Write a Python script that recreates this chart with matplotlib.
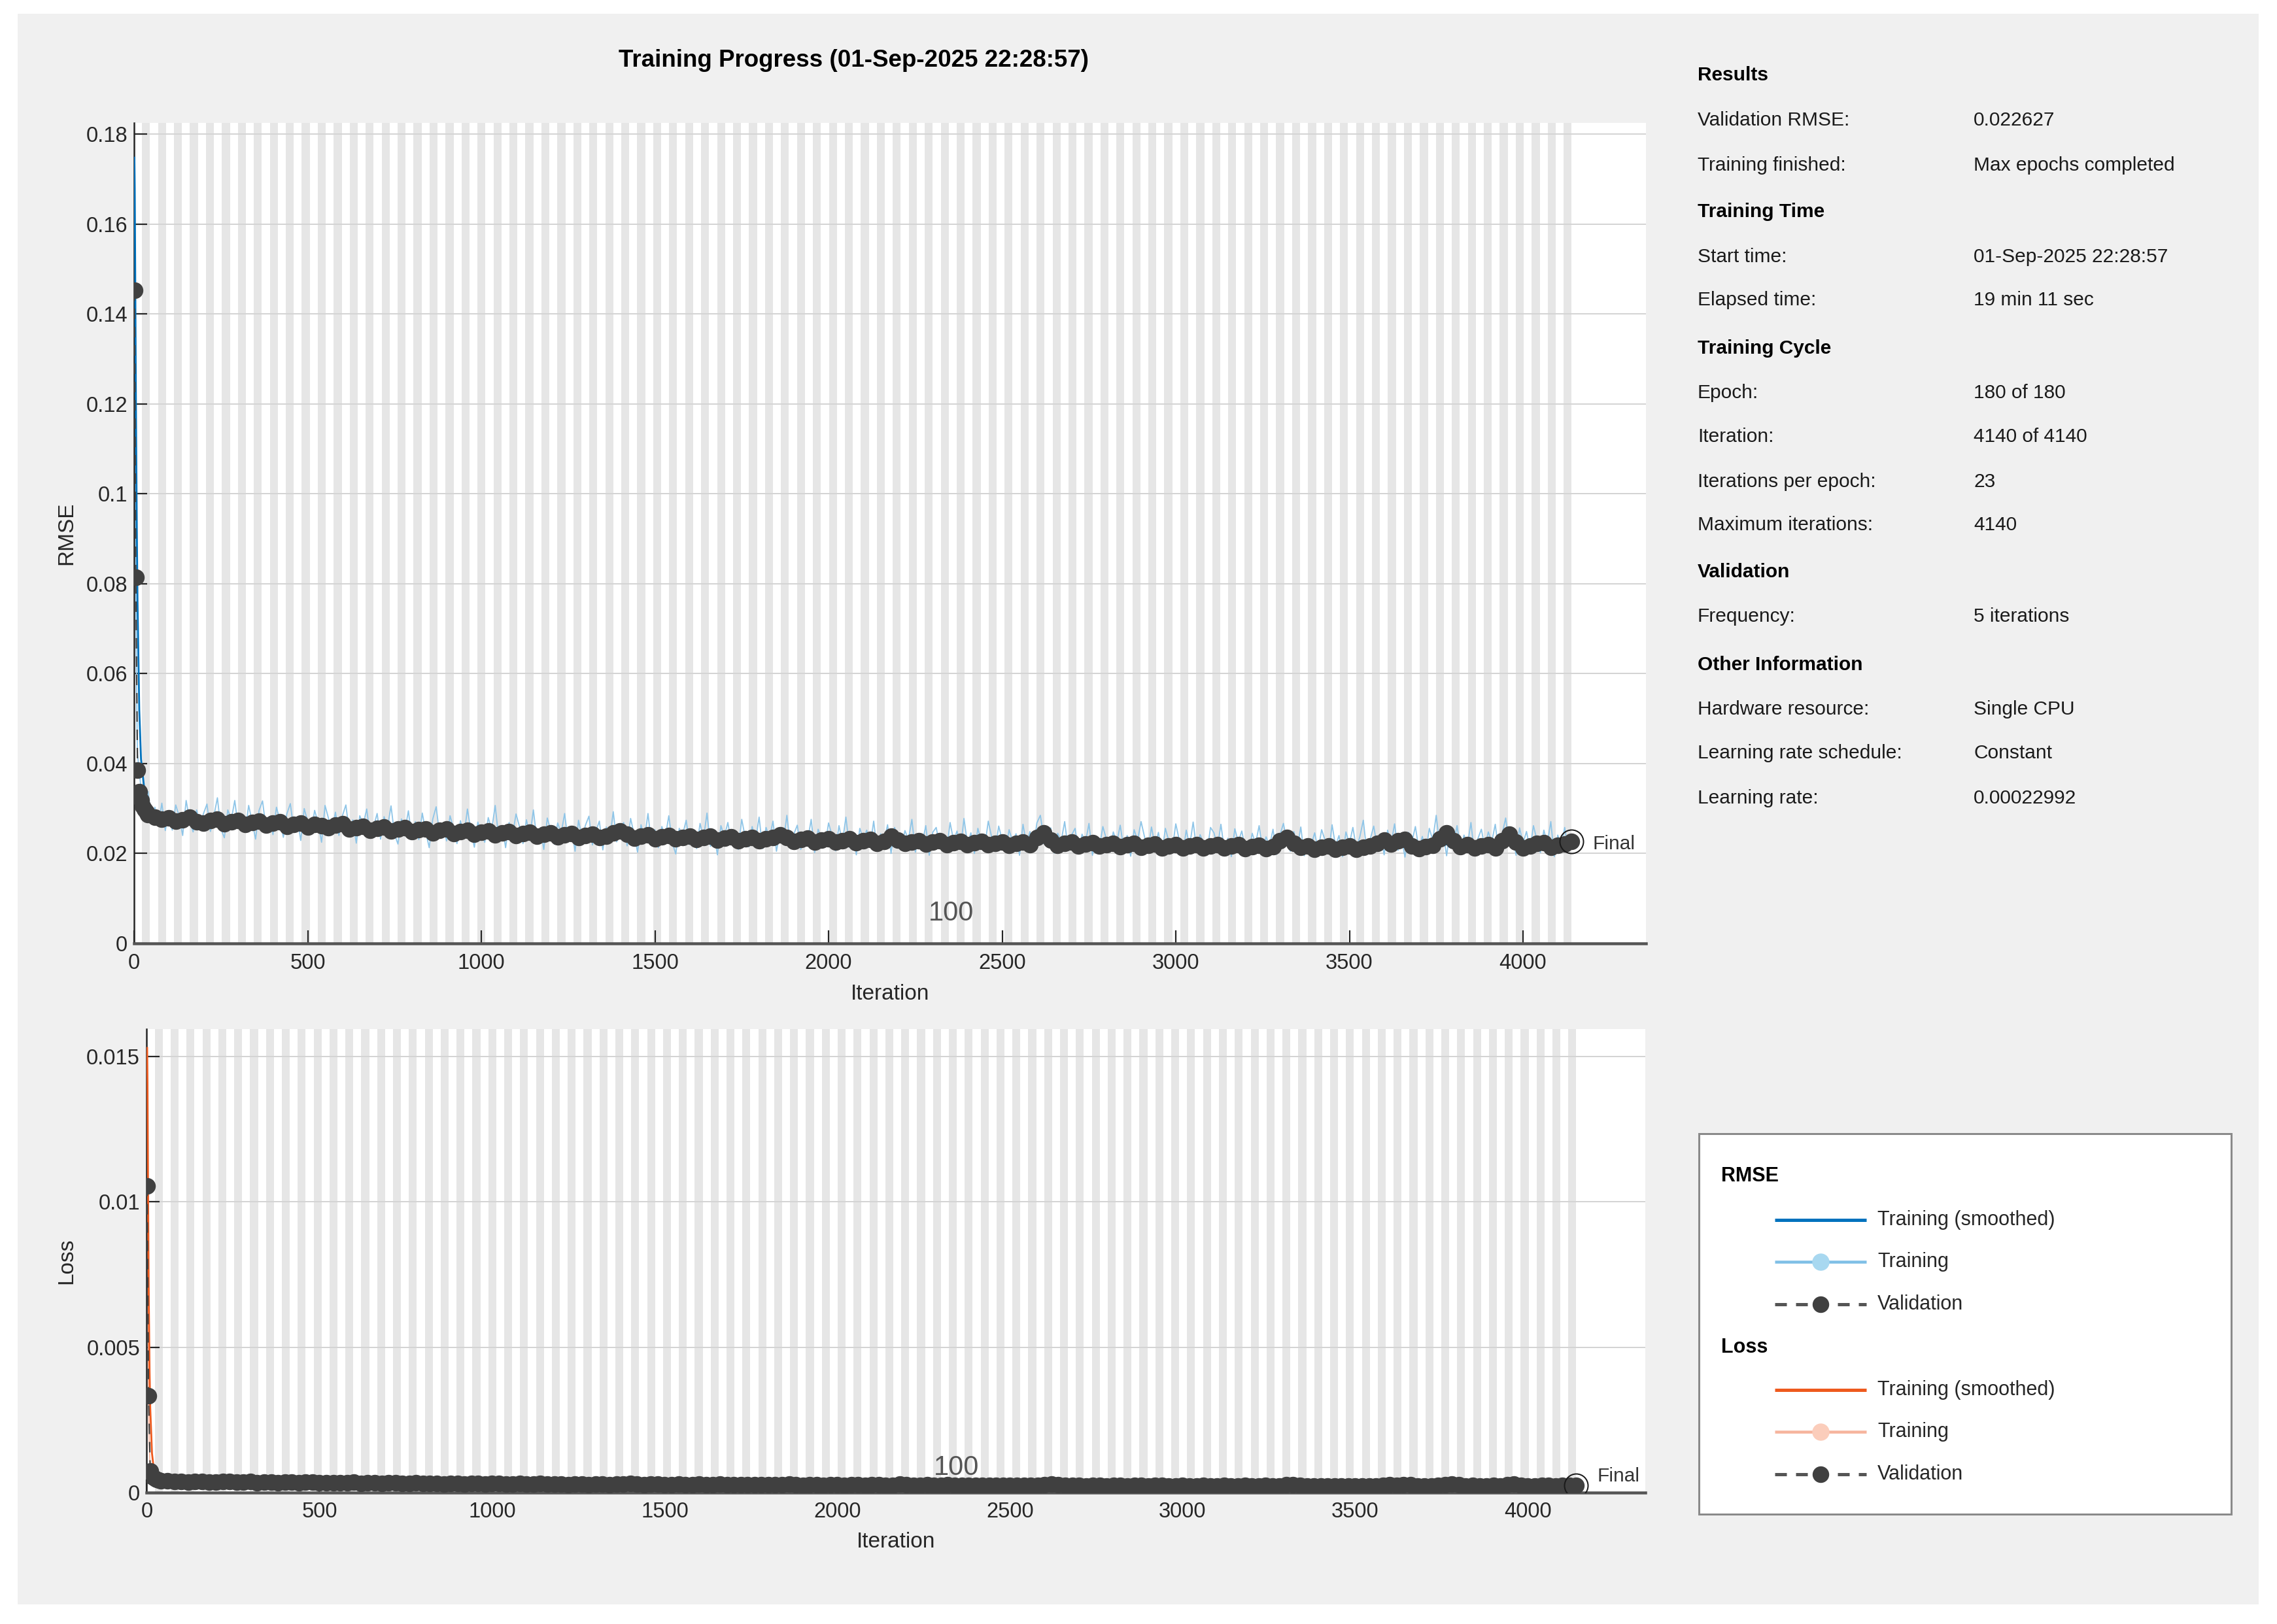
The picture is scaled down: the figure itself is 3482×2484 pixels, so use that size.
import numpy as np
import matplotlib
matplotlib.use("Agg")
import matplotlib.pyplot as plt
from matplotlib.patches import Rectangle
from matplotlib.ticker import FuncFormatter

# ----------------------------------------------------------------- data
n_epochs = 180
iters_per_epoch = 23
max_iter = 4140

# training RMSE (raw), iterations 1..9 then every 10 iterations
train_iter = list(range(1, 10)) + list(range(10, 4141, 10))
train_rmse = [
    0.1748, 0.1600, 0.1280, 0.0980, 0.0820, 0.0700, 0.0600, 0.0520, 0.0460,
    0.0420, 0.0345, 0.0300, 0.0338, 0.0280, 0.0303, 0.0263, 0.0312, 0.0251, 0.0295,
    0.0252, 0.0308, 0.0283, 0.0240, 0.0318, 0.0275, 0.0248, 0.0297, 0.0267, 0.0289,
    0.0310, 0.0249, 0.0284, 0.0324, 0.0255, 0.0235, 0.0297, 0.0275, 0.0318, 0.0257,
    0.0288, 0.0247, 0.0307, 0.0271, 0.0232, 0.0296, 0.0317, 0.0256, 0.0282, 0.0242,
    0.0303, 0.0274, 0.0236, 0.0288, 0.0311, 0.0253, 0.0280, 0.0229, 0.0300, 0.0271,
    0.0244, 0.0296, 0.0268, 0.0225, 0.0307, 0.0278, 0.0251, 0.0292, 0.0240, 0.0284,
    0.0308, 0.0246, 0.0275, 0.0223, 0.0284, 0.0265, 0.0299, 0.0238, 0.0260, 0.0289,
    0.0232, 0.0282, 0.0258, 0.0306, 0.0243, 0.0221, 0.0277, 0.0251, 0.0295, 0.0234,
    0.0271, 0.0231, 0.0290, 0.0248, 0.0213, 0.0276, 0.0304, 0.0242, 0.0263, 0.0228,
    0.0284, 0.0256, 0.0222, 0.0273, 0.0238, 0.0299, 0.0251, 0.0214, 0.0270, 0.0243,
    0.0225, 0.0280, 0.0253, 0.0307, 0.0235, 0.0262, 0.0213, 0.0269, 0.0241, 0.0288,
    0.0260, 0.0222, 0.0275, 0.0239, 0.0297, 0.0230, 0.0257, 0.0209, 0.0279, 0.0251,
    0.0221, 0.0268, 0.0245, 0.0289, 0.0226, 0.0255, 0.0205, 0.0274, 0.0236, 0.0263,
    0.0283, 0.0219, 0.0250, 0.0272, 0.0208, 0.0259, 0.0234, 0.0293, 0.0226, 0.0255,
    0.0269, 0.0217, 0.0278, 0.0243, 0.0203, 0.0264, 0.0232, 0.0289, 0.0222, 0.0253,
    0.0213, 0.0260, 0.0237, 0.0284, 0.0224, 0.0199, 0.0256, 0.0242, 0.0274, 0.0220,
    0.0251, 0.0211, 0.0267, 0.0234, 0.0290, 0.0216, 0.0245, 0.0197, 0.0262, 0.0238,
    0.0269, 0.0223, 0.0250, 0.0209, 0.0276, 0.0236, 0.0215, 0.0260, 0.0229, 0.0281,
    0.0211, 0.0258, 0.0235, 0.0272, 0.0205, 0.0248, 0.0226, 0.0285, 0.0218, 0.0243,
    0.0263, 0.0209, 0.0246, 0.0230, 0.0276, 0.0202, 0.0254, 0.0233, 0.0215, 0.0268,
    0.0240, 0.0206, 0.0262, 0.0225, 0.0281, 0.0214, 0.0248, 0.0197, 0.0256, 0.0232,
    0.0252, 0.0218, 0.0272, 0.0205, 0.0244, 0.0229, 0.0264, 0.0200, 0.0258, 0.0236,
    0.0212, 0.0251, 0.0231, 0.0276, 0.0203, 0.0243, 0.0223, 0.0262, 0.0196, 0.0247,
    0.0258, 0.0218, 0.0238, 0.0205, 0.0269, 0.0229, 0.0250, 0.0210, 0.0278, 0.0222,
    0.0246, 0.0200, 0.0256, 0.0227, 0.0216, 0.0272, 0.0235, 0.0208, 0.0261, 0.0230,
    0.0207, 0.0253, 0.0226, 0.0244, 0.0196, 0.0265, 0.0220, 0.0249, 0.0212, 0.0268,
    0.0285, 0.0234, 0.0215, 0.0257, 0.0201, 0.0245, 0.0228, 0.0271, 0.0209, 0.0241,
    0.0256, 0.0204, 0.0243, 0.0225, 0.0267, 0.0196, 0.0238, 0.0214, 0.0260, 0.0232,
    0.0203, 0.0248, 0.0224, 0.0263, 0.0211, 0.0240, 0.0194, 0.0253, 0.0229, 0.0271,
    0.0237, 0.0207, 0.0259, 0.0218, 0.0247, 0.0199, 0.0256, 0.0227, 0.0210, 0.0266,
    0.0230, 0.0196, 0.0252, 0.0217, 0.0270, 0.0209, 0.0242, 0.0223, 0.0202, 0.0258,
    0.0246, 0.0214, 0.0265, 0.0206, 0.0234, 0.0193, 0.0255, 0.0226, 0.0250, 0.0212,
    0.0201, 0.0245, 0.0222, 0.0262, 0.0208, 0.0237, 0.0216, 0.0254, 0.0198, 0.0241,
    0.0267, 0.0225, 0.0205, 0.0249, 0.0213, 0.0259, 0.0195, 0.0233, 0.0219, 0.0246,
    0.0208, 0.0253, 0.0229, 0.0200, 0.0264, 0.0217, 0.0240, 0.0193, 0.0248, 0.0222,
    0.0258, 0.0212, 0.0237, 0.0274, 0.0204, 0.0232, 0.0261, 0.0215, 0.0244, 0.0197,
    0.0252, 0.0221, 0.0266, 0.0207, 0.0236, 0.0192, 0.0247, 0.0226, 0.0260, 0.0210,
    0.0238, 0.0201, 0.0256, 0.0230, 0.0285, 0.0216, 0.0245, 0.0195, 0.0253, 0.0222,
    0.0262, 0.0208, 0.0241, 0.0219, 0.0269, 0.0198, 0.0233, 0.0254, 0.0213, 0.0248,
    0.0226, 0.0265, 0.0204, 0.0244, 0.0279, 0.0217, 0.0238, 0.0196, 0.0257, 0.0223,
    0.0249, 0.0210, 0.0262, 0.0230, 0.0202, 0.0252, 0.0222, 0.0271, 0.0193, 0.0241,
    0.0217, 0.0258, 0.0206, 0.0235,
]

# training RMSE (smoothed)
smooth_iter = [1, 2, 3, 4, 5, 6, 8, 10, 15, 20, 30, 40, 60, 80, 100, 150, 200,
               300, 400, 500, 600, 700, 800, 900, 1000, 1100, 1200, 1300, 1400,
               1500, 1600, 1700, 1800, 1900, 2000, 2100, 2200, 2300, 2400, 2500,
               2600, 2700, 2800, 2900, 3000, 3100, 3200, 3300, 3400, 3500, 3600,
               3700, 3800, 3900, 4000, 4100, 4140]
smooth_rmse = [0.1748, 0.1680, 0.1550, 0.1400, 0.1260, 0.1130, 0.0920, 0.0760,
               0.0520, 0.0410, 0.0340, 0.0310, 0.0290, 0.0285, 0.0280, 0.0277,
               0.0274, 0.0270, 0.0267, 0.0263, 0.0259, 0.0255, 0.0251, 0.0248,
               0.0245, 0.0242, 0.0240, 0.0238, 0.0237, 0.0235, 0.0233, 0.0232,
               0.0230, 0.0229, 0.0228, 0.0227, 0.0226, 0.0225, 0.0225, 0.0224,
               0.0224, 0.0223, 0.0222, 0.0222, 0.0221, 0.0221, 0.0220, 0.0220,
               0.0220, 0.0219, 0.0219, 0.0220, 0.0220, 0.0221, 0.0221, 0.0221,
               0.0222]

# validation RMSE
val_iter = [1, 5, 10, 15, 20, 25, 30, 35] + list(range(40, 4141, 20))
val_rmse = [
    0.1453, 0.0815, 0.0385, 0.0338, 0.0318, 0.0305, 0.0298, 0.0292,
    0.0287, 0.0281, 0.0276, 0.0279, 0.0272, 0.0275, 0.0280, 0.0271, 0.0268, 0.0274,
    0.0277, 0.0266, 0.0270, 0.0273, 0.0264, 0.0269, 0.0272, 0.0263, 0.0267, 0.0270,
    0.0261, 0.0265, 0.0268, 0.0259, 0.0264, 0.0262, 0.0257, 0.0263, 0.0266, 0.0255,
    0.0258, 0.0261, 0.0252, 0.0256, 0.0259, 0.0250, 0.0254, 0.0257, 0.0248, 0.0253,
    0.0255, 0.0246, 0.0251, 0.0254, 0.0245, 0.0249, 0.0252, 0.0243, 0.0247, 0.0250,
    0.0241, 0.0246, 0.0249, 0.0240, 0.0244, 0.0247, 0.0238, 0.0243, 0.0246, 0.0237,
    0.0241, 0.0244, 0.0236, 0.0240, 0.0243, 0.0235, 0.0239, 0.0246, 0.0250, 0.0243,
    0.0234, 0.0238, 0.0241, 0.0233, 0.0237, 0.0240, 0.0232, 0.0236, 0.0239, 0.0231,
    0.0235, 0.0238, 0.0230, 0.0234, 0.0237, 0.0229, 0.0233, 0.0236, 0.0228, 0.0232,
    0.0235, 0.0242, 0.0236, 0.0227, 0.0231, 0.0234, 0.0226, 0.0230, 0.0233, 0.0225,
    0.0229, 0.0232, 0.0224, 0.0228, 0.0231, 0.0223, 0.0227, 0.0238, 0.0230, 0.0222,
    0.0226, 0.0229, 0.0221, 0.0225, 0.0228, 0.0220, 0.0224, 0.0227, 0.0219, 0.0224,
    0.0227, 0.0219, 0.0223, 0.0226, 0.0218, 0.0222, 0.0225, 0.0220, 0.0236, 0.0246,
    0.0230, 0.0218, 0.0222, 0.0225, 0.0217, 0.0221, 0.0224, 0.0216, 0.0220, 0.0223,
    0.0215, 0.0219, 0.0222, 0.0214, 0.0218, 0.0221, 0.0213, 0.0217, 0.0220, 0.0213,
    0.0217, 0.0220, 0.0212, 0.0216, 0.0219, 0.0212, 0.0216, 0.0219, 0.0211, 0.0215,
    0.0218, 0.0211, 0.0215, 0.0228, 0.0236, 0.0222, 0.0214, 0.0217, 0.0210, 0.0214,
    0.0217, 0.0210, 0.0214, 0.0217, 0.0210, 0.0214, 0.0217, 0.0222, 0.0230, 0.0221,
    0.0229, 0.0231, 0.0217, 0.0211, 0.0215, 0.0218, 0.0232, 0.0246, 0.0228, 0.0215,
    0.0219, 0.0212, 0.0216, 0.0219, 0.0212, 0.0229, 0.0243, 0.0225, 0.0213, 0.0217,
    0.0223, 0.0224, 0.0214, 0.0218, 0.0221, 0.022627,
]

# training loss (raw), in units of 1e-4
loss_train_iter = list(range(1, 10)) + [10, 20, 30] + list(range(40, 4121, 40)) + [4140]
loss_train_e4 = [
    153.0, 128.0, 82.0, 48.0, 34.0, 24.0, 18.0, 13.5, 10.6,
    8.8, 5.6, 4.7,
    5.1, 4.5, 4.2, 3.6, 4.3, 3.9, 3.4, 4.1, 3.7, 3.5,
    4.0, 3.3, 3.8, 3.6, 3.1, 3.9, 3.4, 3.2, 3.7, 3.0,
    3.5, 3.1, 3.6, 2.9, 3.3, 3.0, 3.5, 2.8, 3.2, 3.4,
    2.8, 3.3, 2.9, 3.1, 2.7, 3.4, 2.8, 3.0, 2.6, 3.2,
    2.9, 2.6, 3.1, 2.7, 2.9, 2.5, 3.0, 2.7, 2.8, 2.5,
    3.0, 2.6, 2.8, 2.4, 2.9, 2.6, 2.7, 2.4, 2.9, 2.5,
    2.7, 2.4, 2.8, 2.6, 2.3, 2.9, 2.5, 2.7, 2.3, 2.6,
    2.8, 2.4, 2.6, 2.3, 2.7, 2.5, 2.2, 2.8, 2.4, 2.6,
    2.3, 2.7, 2.4, 2.6, 2.2, 2.8, 2.4, 2.5, 2.3, 2.7,
    2.4, 2.6, 2.2, 2.9, 2.4, 2.5, 2.3, 2.7, 2.4, 2.6,
    2.3, 2.8, 2.5,
    2.6,
]

# training loss (smoothed), in units of 1e-4 (same iterations as smooth_iter)
loss_smooth_e4 = [153.0, 141.0, 120.0, 98.0, 79.0, 64.0, 42.0, 29.0, 13.5, 8.4,
                  5.8, 4.8, 4.2, 4.06, 3.92, 3.84, 3.75, 3.65, 3.56, 3.46, 3.35,
                  3.25, 3.15, 3.08, 3.00, 2.93, 2.88, 2.83, 2.81, 2.76, 2.72,
                  2.69, 2.65, 2.62, 2.60, 2.58, 2.56, 2.53, 2.53, 2.51, 2.51,
                  2.49, 2.46, 2.46, 2.44, 2.44, 2.42, 2.42, 2.42, 2.40, 2.40,
                  2.42, 2.42, 2.44, 2.44, 2.44, 2.46]

# validation loss, in units of 1e-4 (same iterations as val_iter)
val_loss_e4 = [
    105.6, 33.2, 7.4, 5.7, 5.1, 4.65, 4.44, 4.26,
    4.12, 3.95, 3.81, 3.89, 3.70, 3.78, 3.92, 3.67, 3.59, 3.75,
    3.84, 3.54, 3.65, 3.73, 3.48, 3.62, 3.70, 3.46, 3.56, 3.65,
    3.41, 3.51, 3.59, 3.35, 3.48, 3.43, 3.30, 3.46, 3.54, 3.25,
    3.33, 3.41, 3.18, 3.28, 3.35, 3.13, 3.23, 3.30, 3.08, 3.20,
    3.25, 3.03, 3.15, 3.23, 3.00, 3.10, 3.18, 2.95, 3.05, 3.13,
    2.90, 3.03, 3.10, 2.88, 2.98, 3.05, 2.83, 2.95, 3.03, 2.81,
    2.90, 2.98, 2.78, 2.88, 2.95, 2.76, 2.86, 3.03, 3.13, 2.95,
    2.74, 2.83, 2.90, 2.71, 2.81, 2.88, 2.69, 2.78, 2.86, 2.67,
    2.76, 2.83, 2.65, 2.74, 2.81, 2.62, 2.71, 2.78, 2.60, 2.69,
    2.76, 2.93, 2.78, 2.58, 2.67, 2.74, 2.55, 2.65, 2.71, 2.53,
    2.62, 2.69, 2.51, 2.60, 2.67, 2.49, 2.58, 2.83, 2.65, 2.46,
    2.55, 2.62, 2.44, 2.53, 2.60, 2.42, 2.51, 2.58, 2.40, 2.51,
    2.58, 2.40, 2.49, 2.55, 2.38, 2.46, 2.53, 2.42, 2.78, 3.03,
    2.65, 2.38, 2.46, 2.53, 2.35, 2.44, 2.51, 2.33, 2.42, 2.49,
    2.31, 2.40, 2.46, 2.29, 2.38, 2.44, 2.27, 2.35, 2.42, 2.27,
    2.35, 2.42, 2.25, 2.33, 2.40, 2.25, 2.33, 2.40, 2.23, 2.31,
    2.38, 2.23, 2.31, 2.60, 2.78, 2.46, 2.29, 2.35, 2.21, 2.29,
    2.35, 2.21, 2.29, 2.35, 2.21, 2.29, 2.35, 2.46, 2.65, 2.44,
    2.62, 2.67, 2.35, 2.23, 2.31, 2.38, 2.69, 3.03, 2.60, 2.31,
    2.40, 2.25, 2.33, 2.40, 2.25, 2.62, 2.95, 2.53, 2.27, 2.35,
    2.49, 2.51, 2.29, 2.38, 2.44, 2.56,
]

rmse_yticks = [0, 0.02, 0.04, 0.06, 0.08, 0.1, 0.12, 0.14, 0.16, 0.18]
loss_yticks = [0, 0.005, 0.01, 0.015]
iter_ticks = [0, 500, 1000, 1500, 2000, 2500, 3000, 3500, 4000]

title_text = "Training Progress (01-Sep-2025 22:28:57)"
info_rows = [
    ("Results", None),
    ("Validation RMSE:", "0.022627"),
    ("Training finished:", "Max epochs completed"),
    ("Training Time", None),
    ("Start time:", "01-Sep-2025 22:28:57"),
    ("Elapsed time:", "19 min 11 sec"),
    ("Training Cycle", None),
    ("Epoch:", "180 of 180"),
    ("Iteration:", "4140 of 4140"),
    ("Iterations per epoch:", "23"),
    ("Maximum iterations:", "4140"),
    ("Validation", None),
    ("Frequency:", "5 iterations"),
    ("Other Information", None),
    ("Hardware resource:", "Single CPU"),
    ("Learning rate schedule:", "Constant"),
    ("Learning rate:", "0.00022992"),
]
epoch_marker_label = "100"

# ----------------------------------------------------------------- style
W, H = 3482, 2484
DPI = 100
PT = DPI / 72.0  # pixels per point

def px(v):
    return v / PT

plt.rcParams['font.family'] = ['Liberation Sans', 'DejaVu Sans']
plt.rcParams['lines.scale_dashes'] = False

C_BLUE = '#0072BD'
C_BLUE_LIGHT = '#8EC5E8'
C_BLUE_MARK = '#A8D8F0'
C_ORANGE = '#EE5A1E'
C_ORANGE_LIGHT = '#F6B49D'
C_ORANGE_MARK = '#FBCDBB'
C_VAL = '#404040'
C_AX = '#262626'
STRIPE = '#E6E6E6'

fig = plt.figure(figsize=(W / DPI, H / DPI), dpi=DPI, facecolor='white')
fig.add_artist(Rectangle((27 / W, 1 - 2454 / H), (3454 - 27) / W, (2454 - 21) / H,
                         transform=fig.transFigure, facecolor='#F0F0F0',
                         edgecolor='none', zorder=-10))

def fxy(x, y):
    return x / W, 1 - y / H

ax1 = fig.add_axes([205 / W, 1 - 1443 / H, 2312 / W, (1443 - 187.5) / H])
ax2 = fig.add_axes([224.5 / W, 1 - 2283 / H, (2516 - 224.5) / W, (2283 - 1573.5) / H])

fmt = FuncFormatter(lambda v, p: '%g' % v)

def style_axes(ax, xmax, ymax, yticks, ylab, xlab_y, ylab_x, ypad, xpad):
    ax.set_facecolor('white')
    for k in range(1, n_epochs, 2):
        ax.axvspan(k * iters_per_epoch, (k + 1) * iters_per_epoch,
                   facecolor=STRIPE, edgecolor='none', zorder=0.2)
    ax.set_xlim(0, xmax)
    ax.set_ylim(0, ymax)
    ax.set_yticks(yticks)
    ax.set_xticks(iter_ticks)
    ax.yaxis.set_major_formatter(fmt)
    ax.xaxis.set_major_formatter(fmt)
    ax.set_axisbelow(True)
    ax.yaxis.grid(True, color='#D4D4D4', linewidth=px(2))
    ax.xaxis.grid(False)
    ax.spines['top'].set_visible(False)
    ax.spines['right'].set_visible(False)
    ax.spines['left'].set_color(C_AX)
    ax.spines['left'].set_linewidth(px(2.5))
    ax.spines['bottom'].set_color('#555555')
    ax.spines['bottom'].set_linewidth(px(4.5))
    ax.tick_params(axis='both', direction='in', length=px(20), width=px(2.2),
                   color=C_AX, labelcolor=C_AX, labelsize=23.5)
    ax.tick_params(axis='y', pad=ypad)
    ax.tick_params(axis='x', pad=xpad)
    ax.set_xlabel('Iteration', fontsize=24, color=C_AX)
    ax.set_ylabel(ylab, fontsize=24, color=C_AX)
    ax.xaxis.label.set_va('center')
    ax.yaxis.label.set_va('center')
    ax.xaxis.set_label_coords(0.5, xlab_y)
    ax.yaxis.set_label_coords(ylab_x, 0.5)

style_axes(ax1, 4354, 0.1826, rmse_yticks, 'RMSE', -0.062, -0.0445, 7, 11)
style_axes(ax2, 4340, 0.01596, loss_yticks, 'Loss', -0.106, -0.0535, 7.5, 10)

MS_VAL = px(24)
LW_RAW = px(1.8)
LW_SM = px(2.8)

# --- RMSE panel
ax1.plot(train_iter, train_rmse, color=C_BLUE_LIGHT, lw=LW_RAW, zorder=2)
ax1.plot(smooth_iter, smooth_rmse, color=C_BLUE, lw=LW_SM, zorder=3)
ax1.plot(val_iter, val_rmse, color=C_VAL, lw=px(2.2), ls=(0, (px(16), px(12))),
         marker='o', ms=MS_VAL, mfc=C_VAL, mec=C_VAL, zorder=4)
ax1.plot([val_iter[-1]], [val_rmse[-1]], 'o', ms=px(36), mfc='none',
         mec='#1a1a1a', mew=px(2), zorder=5)
ax1.annotate('Final', (val_iter[-1], val_rmse[-1]), xytext=(px(32), px(-4)),
             textcoords='offset points', va='center', ha='left',
             fontsize=21.5, color='#333333', zorder=6)
ax1.text(2353, 0.0067, epoch_marker_label, ha='center', va='center',
         fontsize=30, color='#555555', zorder=6)

# --- Loss panel
loss_train = np.array(loss_train_e4) * 1e-4
loss_smooth = np.array(loss_smooth_e4) * 1e-4
val_loss = np.array(val_loss_e4) * 1e-4
ax2.plot(loss_train_iter, loss_train, color=C_ORANGE_LIGHT, lw=LW_RAW, zorder=2)
ax2.plot(smooth_iter, loss_smooth, color=C_ORANGE, lw=LW_SM, zorder=3)
ax2.plot(val_iter, val_loss, color=C_VAL, lw=px(2.2), ls=(0, (px(16), px(12))),
         marker='o', ms=MS_VAL, mfc=C_VAL, mec=C_VAL, zorder=4)
ax2.plot([val_iter[-1]], [val_loss[-1]], 'o', ms=px(36), mfc='none',
         mec='#1a1a1a', mew=px(2), zorder=5)
ax2.annotate('Final', (val_iter[-1], val_loss[-1]), xytext=(px(32), px(14)),
             textcoords='offset points', va='center', ha='left',
             fontsize=21.5, color='#333333', zorder=6)
ax2.text(2345, 0.00085, epoch_marker_label, ha='center', va='center',
         fontsize=30, color='#555555', zorder=6)

# --- Title
fig.text(*fxy(1305, 93), title_text, ha='center', va='center',
         fontsize=26.5, fontweight='bold', color='black')

# --- Info panel
row_y = [115, 184, 253, 324, 393, 459, 533, 601, 668, 737, 803, 875, 943,
         1017, 1085, 1152, 1221]
for (lab, val), yy in zip(info_rows, row_y):
    if val is None:
        fig.text(*fxy(2596, yy), lab, ha='left', va='center', fontsize=21.5,
                 fontweight='bold', color='black')
    else:
        fig.text(*fxy(2596, yy), lab, ha='left', va='center', fontsize=21.5,
                 color='#1a1a1a')
        fig.text(*fxy(3018, yy), val, ha='left', va='center', fontsize=21.5,
                 color='#1a1a1a')

# --- Legend box
LX0, LX1, LY0, LY1 = 2598, 3412, 1734, 2316
lax = fig.add_axes([LX0 / W, 1 - LY1 / H, (LX1 - LX0) / W, (LY1 - LY0) / H])
lax.set_xlim(LX0, LX1)
lax.set_ylim(LY1, LY0)
lax.set_facecolor('white')
lax.set_xticks([])
lax.set_yticks([])
for s in lax.spines.values():
    s.set_color('#8A8A8A')
    s.set_linewidth(px(3))

def legend_group(y_head, y_rows, head, c_sm, c_raw, c_rawm):
    lax.text(2632, y_head, head, ha='left', va='center', fontsize=22,
             fontweight='bold', color='black')
    x0, x1, xm, xt = 2714, 2854, 2784, 2871
    lax.plot([x0, x1], [y_rows[0]] * 2, color=c_sm, lw=px(5), solid_capstyle='butt')
    lax.plot([x0, x1], [y_rows[1]] * 2, color=c_raw, lw=px(4.5), solid_capstyle='butt')
    lax.plot([xm], [y_rows[1]], 'o', ms=px(25), mfc=c_rawm, mec=c_rawm)
    lax.plot([x0, x1], [y_rows[2]] * 2, color='#555555', lw=px(5),
             ls=(0, (px(18), px(14))), dash_capstyle='butt')
    lax.plot([xm], [y_rows[2]], 'o', ms=px(24), mfc=C_VAL, mec=C_VAL)
    labels = ['Training (smoothed)', 'Training', 'Validation']
    for yy, t in zip(y_rows, labels):
        lax.text(xt, yy, t, ha='left', va='center', fontsize=22, color='#262626')

legend_group(1799, [1866, 1930, 1995], 'RMSE', C_BLUE, '#7FBFE6', C_BLUE_MARK)
legend_group(2061, [2126, 2190, 2255], 'Loss', C_ORANGE, C_ORANGE_LIGHT, C_ORANGE_MARK)

fig.savefig('out.png', dpi=DPI, facecolor='white')
